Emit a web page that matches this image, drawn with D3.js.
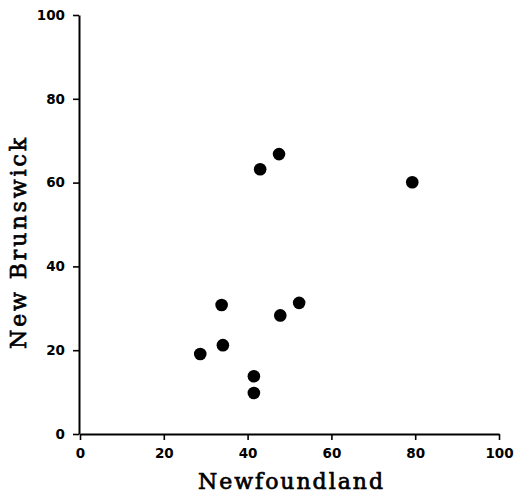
<!DOCTYPE html>
<html>
<head>
<meta charset="utf-8">
<script src="https://cdn.jsdelivr.net/npm/d3@7"></script>
<style>
html,body{margin:0;padding:0;background:#fff;}
svg{display:block;}
</style>
</head>
<body>
<svg id="chart" width="515" height="494"></svg>
<script>
const newfoundland = [28.7, 33.8, 34.1, 41.5, 41.5, 43.0, 47.5, 47.8, 52.3, 79.3];
const newBrunswick = [19.1, 30.8, 21.2, 13.8, 9.8, 63.2, 66.8, 28.3, 31.3, 60.1];
const xTicks = [0, 20, 40, 60, 80, 100];
const yTicks = [0, 20, 40, 60, 80, 100];
const xTitle = "Newfoundland";
const yTitle = "New Brunswick";

const svg = d3.select("#chart");
const x = d3.scaleLinear().domain([0, 100]).range([80, 499]);
const y = d3.scaleLinear().domain([0, 100]).range([434, 15]);

const tickFont = "'DejaVu Sans', sans-serif";

const gx = svg.append("g").attr("transform", `translate(0,${y(0)})`)
  .call(d3.axisBottom(x).tickValues(xTicks).tickSize(6).tickSizeOuter(0).tickPadding(8).tickFormat(d3.format("d")));
const gy = svg.append("g").attr("transform", `translate(${x(0) - 1},0)`)
  .call(d3.axisLeft(y).tickValues(yTicks).tickSize(6).tickSizeOuter(0).tickPadding(8).tickFormat(d3.format("d")));

[gx, gy].forEach(g => {
  g.select(".domain").attr("stroke", "#000").attr("stroke-width", 2);
  g.selectAll(".tick line").attr("stroke", "#000").attr("stroke-width", 1.6);
  g.selectAll(".tick text").attr("fill", "#000")
    .style("font-family", tickFont).style("font-weight", "bold").style("font-size", "13.5px");
});

svg.append("g").selectAll("circle")
  .data(newfoundland.map((v, i) => [v, newBrunswick[i]]))
  .join("circle")
  .attr("cx", d => x(d[0]))
  .attr("cy", d => y(d[1]))
  .attr("r", 6.3)
  .attr("fill", "#000");

const titleFont = "'DejaVu Serif', serif";
svg.append("text")
  .attr("x", 198).attr("y", 488.5)
  .attr("textLength", 185).attr("lengthAdjust", "spacing")
  .style("font-family", titleFont).style("font-size", "22px")
  .attr("fill", "#000").attr("stroke", "#000").attr("stroke-width", 0.7)
  .text(xTitle);

svg.append("text")
  .attr("transform", `translate(25.5,349) rotate(-90)`)
  .attr("textLength", 211).attr("lengthAdjust", "spacing")
  .style("font-family", titleFont).style("font-size", "22px")
  .attr("fill", "#000").attr("stroke", "#000").attr("stroke-width", 0.7)
  .text(yTitle);
</script>
</body>
</html>
